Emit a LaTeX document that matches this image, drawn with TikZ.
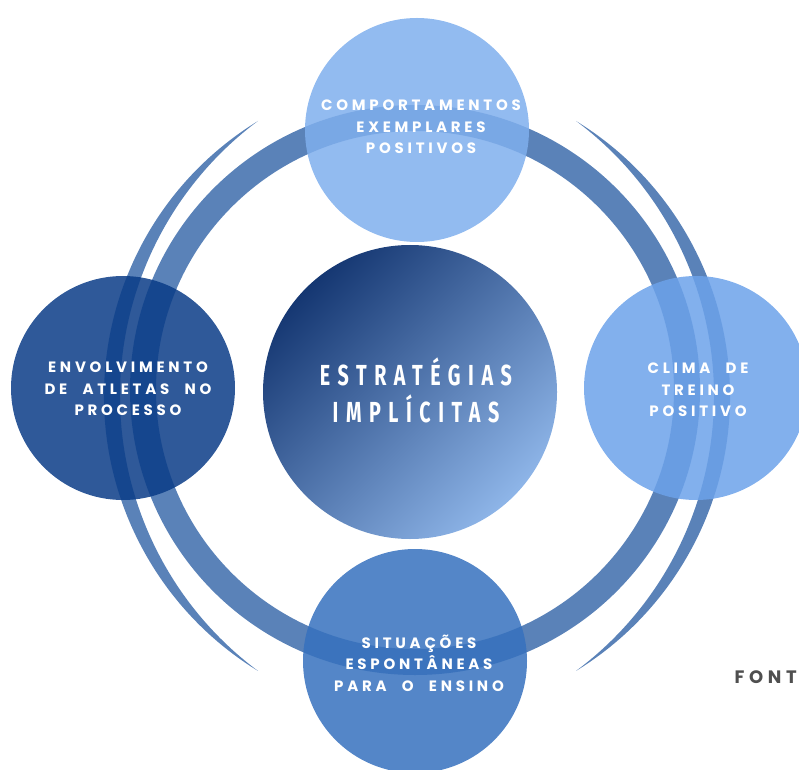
\documentclass[tikz,border=0pt]{standalone}
\usepackage{fontspec}
\newfontfamily\bubblefont[LetterSpace=25,WordSpace=2.2]{Poppins}
\newfontfamily\notefont[LetterSpace=26]{Poppins}
\newfontfamily\corefont[FakeStretch=0.68,LetterSpace=26]{Fira Sans}

\definecolor{ringblue}{HTML}{5A82B8}
\definecolor{skyblue}{HTML}{7FAFED}
\definecolor{navyblue}{HTML}{0A3C87}
\definecolor{paleblue}{HTML}{6CA2EA}
\definecolor{midblue}{HTML}{3671BE}
\definecolor{coredark}{HTML}{153772}
\definecolor{corelight}{HTML}{8EB5E8}
\definecolor{notegray}{HTML}{4F4F4F}

\begin{document}
\begin{tikzpicture}[x=1pt,y=1pt,
  bubble/.style={circle,minimum size=224pt,inner sep=0pt,fill opacity=0.85},
  caption/.style={text=white,align=center,
    font=\bubblefont\bfseries\fontsize{15}{21.5}\selectfont}]
\useasboundingbox (0,0) rectangle (799,769);

\draw[ringblue,line width=26pt] (415,379) circle (272);
\fill[ringblue] (258,648) arc[start angle=121.5,end angle=238.5,radius=322.5]
  arc[start angle=233.3,end angle=126.7,radius=343] -- cycle;
\fill[ringblue] (576,648) arc[start angle=58.5,end angle=-58.5,radius=322.5]
  arc[start angle=-53.3,end angle=53.3,radius=343] -- cycle;

\node[bubble,fill=skyblue] (exemplos) at (417,639) {};
\node[bubble,fill=navyblue] (atletas) at (123,381) {};
\node[bubble,fill=paleblue] (clima) at (696,381) {};
\node[bubble,fill=midblue] (situacoes) at (415,108) {};
\node[circle,minimum size=294pt,inner sep=0pt,top color=coredark,
  bottom color=corelight,shading angle=45] (nucleo) at (410,377) {};

\node[caption] (exemplos-txt) at (421,642) {COMPORTAMENTOS\\EXEMPLARES\\POSITIVOS};
\node[caption] (atletas-txt) at (128,380) {ENVOLVIMENTO\\DE ATLETAS NO\\PROCESSO};
\node[caption] (clima-txt) at (698,379) {CLIMA DE\\TREINO\\POSITIVO};
\node[caption] (situacoes-txt) at (419,106) {SITUAÇÕES\\ESPONTÂNEAS\\PARA O ENSINO};
\node[text=white,align=center,font=\corefont\bfseries\fontsize{29}{37}\selectfont]
  (nucleo-txt) at (416,379) {ESTRATÉGIAS\\IMPLÍCITAS};

\node[anchor=base west,text=notegray,font=\notefont\bfseries\fontsize{18}{18}\selectfont]
  (fonte) at (731,86) {FONT};
\end{tikzpicture}
\end{document}
